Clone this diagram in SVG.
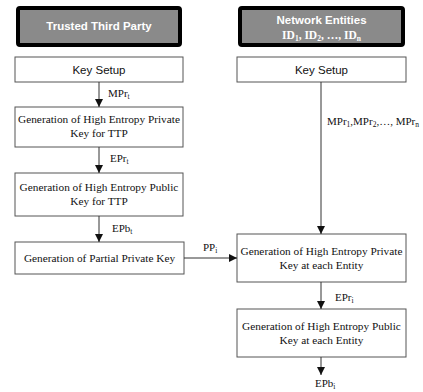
<svg xmlns="http://www.w3.org/2000/svg" width="423" height="392" viewBox="0 0 423 392">
<defs>
<style>
.hdr{fill:#8a8a8a;stroke:#000;stroke-width:4}
.box{fill:#fff;stroke:#555;stroke-width:1}
.ht{font-family:"Liberation Sans",Arial,sans-serif;font-weight:bold;font-size:11.5px;fill:#fff;text-anchor:middle}
.hs{font-family:"Liberation Serif","Times New Roman",serif;font-weight:bold;font-size:11.5px;fill:#fff;text-anchor:middle}
.ks{font-family:"Liberation Sans",Arial,sans-serif;font-size:11.5px;fill:#111;text-anchor:middle}
.bt{font-family:"Liberation Serif","Times New Roman",serif;font-size:11.3px;fill:#111;text-anchor:middle}
.lb{font-family:"Liberation Serif","Times New Roman",serif;font-size:11px;fill:#111}
.sub{font-size:7.5px}
.ln{stroke:#333;stroke-width:1;fill:none;marker-end:url(#ah)}
</style>
<marker id="ah" viewBox="0 0 10 10" refX="10" refY="5" markerWidth="8" markerHeight="10" markerUnits="userSpaceOnUse" orient="auto">
<path d="M0,0 L10,5 L0,10 Z" fill="#111"/>
</marker>
</defs>
<rect width="423" height="392" fill="#fff"/>
<g id="ttp-header">
<rect class="hdr" x="18" y="8" width="162" height="37" rx="2"/>
<text class="ht" x="99" y="30">Trusted Third Party</text>
</g>
<g id="ne-header">
<rect class="hdr" x="240" y="8" width="163" height="37" rx="2"/>
<text class="ht" x="321.5" y="24">Network Entities</text>
<text class="hs" x="321.5" y="39">ID<tspan class="sub" dy="2">1</tspan><tspan dy="-2">, ID</tspan><tspan class="sub" dy="2">2</tspan><tspan dy="-2">, …, ID</tspan><tspan class="sub" dy="2">n</tspan></text>
</g>
<g id="ttp-keysetup">
<rect class="box" x="15" y="57" width="168" height="25"/>
<text class="ks" x="99" y="74">Key Setup</text>
</g>
<g id="ttp-private">
<rect class="box" x="15" y="107" width="168" height="40"/>
<text class="bt" x="99" y="123">Generation of High Entropy Private</text>
<text class="bt" x="99" y="137">Key for TTP</text>
</g>
<g id="ttp-public">
<rect class="box" x="15" y="173" width="168" height="43"/>
<text class="bt" x="99" y="191">Generation of High Entropy Public</text>
<text class="bt" x="99" y="205">Key for TTP</text>
</g>
<g id="ttp-partial">
<rect class="box" x="15" y="242" width="169" height="32"/>
<text class="bt" x="99.5" y="262">Generation of Partial Private Key</text>
</g>
<g id="ne-keysetup">
<rect class="box" x="237" y="57" width="169" height="25"/>
<text class="ks" x="321.5" y="74">Key Setup</text>
</g>
<g id="ne-private">
<rect class="box" x="237" y="234" width="169" height="48"/>
<text class="bt" x="321.5" y="255">Generation of High Entropy Private</text>
<text class="bt" x="321.5" y="269">Key at each Entity</text>
</g>
<g id="ne-public">
<rect class="box" x="237" y="309" width="169" height="48"/>
<text class="bt" x="321.5" y="330">Generation of High Entropy Public</text>
<text class="bt" x="321.5" y="344">Key at each Entity</text>
</g>
<g id="connectors">
<line class="ln" x1="99" y1="82" x2="99" y2="107"/>
<line class="ln" x1="99" y1="147" x2="99" y2="173"/>
<line class="ln" x1="99" y1="216" x2="99" y2="242"/>
<line class="ln" x1="321" y1="82" x2="321" y2="234"/>
<line class="ln" x1="321" y1="282" x2="321" y2="309"/>
<line class="ln" x1="321" y1="357" x2="321" y2="375"/>
<line class="ln" x1="184" y1="258" x2="237" y2="258"/>
<text class="lb" x="108" y="97">MPr<tspan class="sub" dy="2">t</tspan></text>
<text class="lb" x="110" y="162">EPr<tspan class="sub" dy="2">t</tspan></text>
<text class="lb" x="112" y="232">EPb<tspan class="sub" dy="2">t</tspan></text>
<text class="lb" x="203" y="251">PP<tspan class="sub" dy="2">i</tspan></text>
<text class="lb" x="327" y="125">MPr<tspan class="sub" dy="2">1</tspan><tspan dy="-2">,MPr</tspan><tspan class="sub" dy="2">2</tspan><tspan dy="-2">,…, MPr</tspan><tspan class="sub" dy="2">n</tspan></text>
<text class="lb" x="335" y="301">EPr<tspan class="sub" dy="2">i</tspan></text>
<text class="lb" x="315" y="387">EPb<tspan class="sub" dy="2">i</tspan></text>
</g>
</svg>
